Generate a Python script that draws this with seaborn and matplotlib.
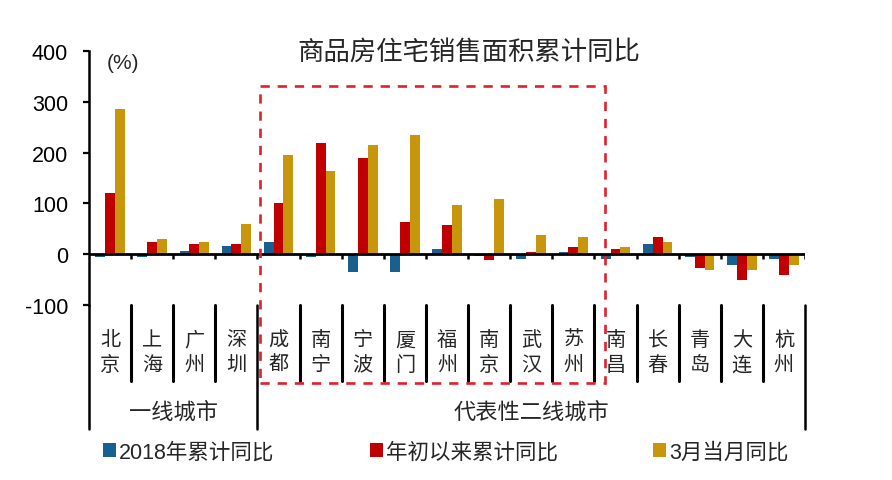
import pandas as pd
import matplotlib
matplotlib.use('Agg')
import matplotlib.pyplot as plt
import matplotlib.transforms as mtransforms
from matplotlib.patches import Rectangle
import seaborn as sns

sns.set_style('white')
plt.rcParams['font.family'] = ['Liberation Sans', 'Noto Sans CJK SC', 'DejaVu Sans']
plt.rcParams['axes.unicode_minus'] = False

cities = ['北京', '上海', '广州', '深圳', '成都', '南宁', '宁波', '厦门', '福州',
          '南京', '武汉', '苏州', '南昌', '长春', '青岛', '大连', '杭州']
yoy_2018 = [-5, -5, 6, 16, 25, -5, -35, -35, 10, -4, -10, 5, -10, 20, -5, -22, -10]
ytd_yoy = [120, 25, 21, 21, 101, 219, 190, 63, 58, -12, 5, 15, 10, 34, -27, -50, -41]
march_yoy = [285, 30, 25, 59, 195, 163, 214, 234, 96, 109, 38, 33, 15, 25, -32, -32, -22]
series_names = ['2018年累计同比', '年初以来累计同比', '3月当月同比']
groups = [('一线城市', 0, 3), ('代表性二线城市', 4, 16)]
colors = ['#17608f', '#c00000', '#c8960c']

df = pd.DataFrame({
    'city': cities * 3,
    'value': yoy_2018 + ytd_yoy + march_yoy,
    'series': [s for s in series_names for _ in cities],
})

fig = plt.figure(figsize=(8.92, 4.81), dpi=100)
ax = fig.add_axes([89 / 892, 175 / 481, 716 / 892, 254 / 481])

sns.barplot(data=df, x='city', y='value', hue='series', palette=colors,
            width=0.7, saturation=1, linewidth=0, ax=ax, errorbar=None)
handles, labels = ax.get_legend_handles_labels()
ax.get_legend().remove()

n = len(cities)
ax.set_xlim(-0.5, n - 0.5)
ax.set_ylim(-100, 400)
ax.set_yticks([-100, 0, 100, 200, 300, 400])
ax.tick_params(axis='y', direction='out', length=4, width=1.6, pad=11,
               labelsize=15.5, left=True, colors='black')
ax.set_xticks([])
ax.set_xlabel('')
ax.set_ylabel('')
for s in ['top', 'right', 'bottom']:
    ax.spines[s].set_visible(False)
ax.spines['left'].set_linewidth(1.8)
ax.spines['left'].set_color('black')

# zero line with small ticks at the category borders
ax.axhline(0, color='black', lw=2, zorder=3)
ax.vlines([k + 0.5 for k in range(n)], 0, -10, color='black', lw=1.8, zorder=3)

trans = mtransforms.blended_transform_factory(ax.transData, ax.transAxes)

# dividers below the plot
group_edges = [-0.5] + [g[2] + 0.5 for g in groups]
for k in range(n - 1):
    x = k + 0.5
    if x in group_edges:
        continue
    ax.plot([x, x], [0, -0.30], color='black', lw=2.2, transform=trans, clip_on=False)
for x in group_edges:
    ax.plot([x, x], [0, -0.488], color='black', lw=1.8, transform=trans, clip_on=False)

for i, c in enumerate(cities):
    ax.text(i, -0.186, c[0] + '\n' + c[1], transform=trans, ha='center', va='center',
            fontsize=14.5, linespacing=1.4)

for name, a, b in groups:
    ax.text((a + b) / 2, -0.42, name, transform=trans, ha='center', va='center', fontsize=16)

# dashed box around representative cities
box = Rectangle((3.56, -0.307), 11.75 - 3.56, 0.862 + 0.307, transform=trans, fill=False,
                edgecolor='#e0202a', lw=1.9, linestyle=(0, (3.5, 3)), clip_on=False, zorder=4)
ax.add_patch(box)

ax.text(0.025, 0.955, '(%)', transform=ax.transAxes, ha='left', va='center', fontsize=15)
fig.text(469 / 892, 1 - 52 / 481, '商品房住宅销售面积累计同比', ha='center', va='center', fontsize=19)

for h, l, x in zip(handles, labels, [103, 370, 653]):
    fig.legend([h], [l], loc='center left', bbox_to_anchor=(x / 892, 1 - 453 / 481),
               frameon=False, fontsize=15.5, handlelength=0.6, handleheight=0.6,
               handletextpad=0.15, borderpad=0, borderaxespad=0)

fig.savefig('out.png', dpi=100)
